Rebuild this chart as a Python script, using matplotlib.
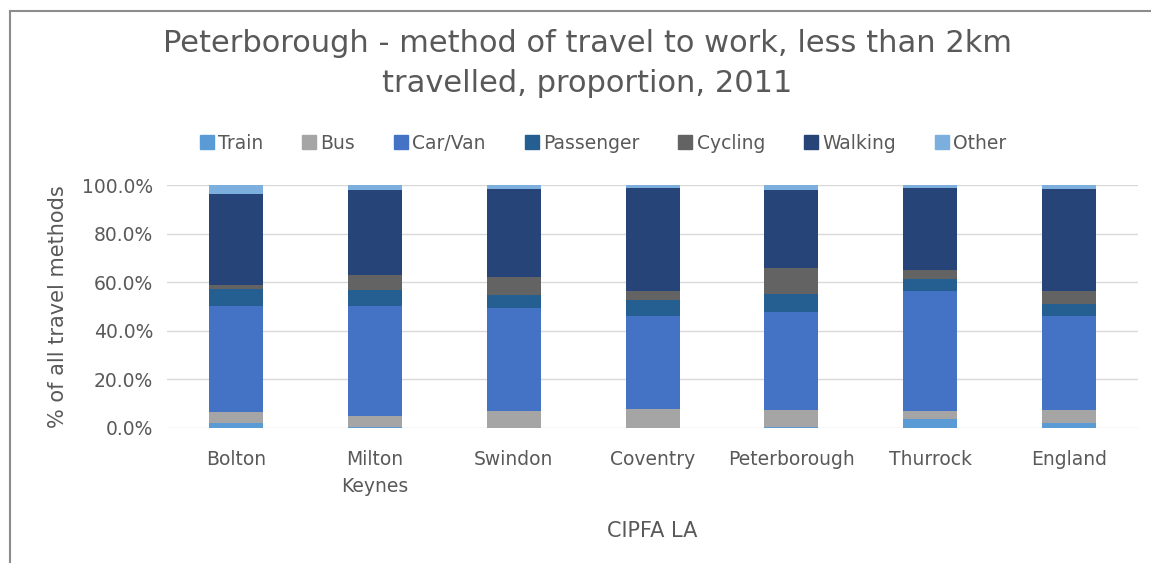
import matplotlib
matplotlib.use("Agg")
import matplotlib.pyplot as plt
from matplotlib.lines import Line2D
import numpy as np

areas = ["Bolton", "Milton\nKeynes", "Swindon", "Coventry", "Peterborough", "Thurrock", "England"]
methods = ["Train", "Bus", "Car/Van", "Passenger", "Cycling", "Walking", "Other"]

# percentages
train = [1.9, 0.3, 0.2, 0.2, 0.3, 3.8, 2.2]
bus = [4.8, 4.6, 6.9, 7.5, 7.1, 3.0, 5.2]
car_van = [43.5, 45.3, 42.4, 38.5, 40.5, 49.7, 38.8]
passenger = [6.9, 6.6, 5.2, 6.5, 7.2, 4.9, 4.8]
cycling = [1.7, 6.2, 7.3, 3.8, 10.9, 3.7, 5.5]
walking = [37.5, 34.9, 36.2, 42.1, 31.9, 33.6, 41.7]
other = [3.7, 2.1, 1.8, 1.4, 2.1, 1.1, 1.8]

series = [train, bus, car_van, passenger, cycling, walking, other]
colors = ["#5B9BD5", "#A5A5A5", "#4472C4", "#255E91", "#636363", "#264478", "#7CAFDD"]
text_col = "#595959"

fig = plt.figure(figsize=(11.51, 5.63), dpi=100)
ax = fig.add_axes([0.145, 0.2398, 0.844, 0.4316])

x = np.arange(len(areas))
bottom = np.zeros(len(areas))
for name, vals, col in zip(methods, series, colors):
    ax.bar(x, vals, 0.39, bottom=bottom, color=col, label=name, zorder=3)
    bottom += np.array(vals)

ax.set_xlim(-0.5, len(areas) - 0.5)
ax.set_ylim(0, 100)
ax.set_yticks(np.arange(0, 101, 20))
ax.set_yticklabels([f"{v:.1f}%" for v in range(0, 101, 20)])
ax.set_xticks(x)
ax.set_xticklabels(areas, linespacing=1.55)
ax.tick_params(axis="both", length=0, colors=text_col, labelsize=13.5)
ax.tick_params(axis="x", pad=16)
ax.tick_params(axis="y", pad=10)
ax.grid(axis="y", color="#D9D9D9", linewidth=1, zorder=0)
for s in ax.spines.values():
    s.set_visible(False)

ax.set_ylabel("% of all travel methods", color=text_col, fontsize=15, labelpad=10)
ax.set_xlabel("CIPFA LA", color=text_col, fontsize=15, labelpad=18)

fig.text(0.51, 0.922, "Peterborough - method of travel to work, less than 2km",
         ha="center", va="center", fontsize=22, color=text_col)
fig.text(0.51, 0.851, "travelled, proportion, 2011",
         ha="center", va="center", fontsize=22, color=text_col)

handles = [Line2D([], [], marker="s", linestyle="", markersize=10,
                  markerfacecolor=c, markeredgecolor=c) for c in colors]
fig.legend(handles, methods, loc="center", bbox_to_anchor=(0.523, 0.746), ncol=7,
           frameon=False, fontsize=13.5, labelcolor=text_col, handletextpad=0.1,
           columnspacing=1.95, handlelength=1.0)

# chart frame edges visible in the screenshot
fig.add_artist(Line2D([0.0085, 0.0085], [0, 0.98], transform=fig.transFigure,
                      color="#8C8C8C", linewidth=1.5))
fig.add_artist(Line2D([0.0085, 1.0], [0.98, 0.98], transform=fig.transFigure,
                      color="#8C8C8C", linewidth=1.5))

fig.savefig("out.png", dpi=100)
